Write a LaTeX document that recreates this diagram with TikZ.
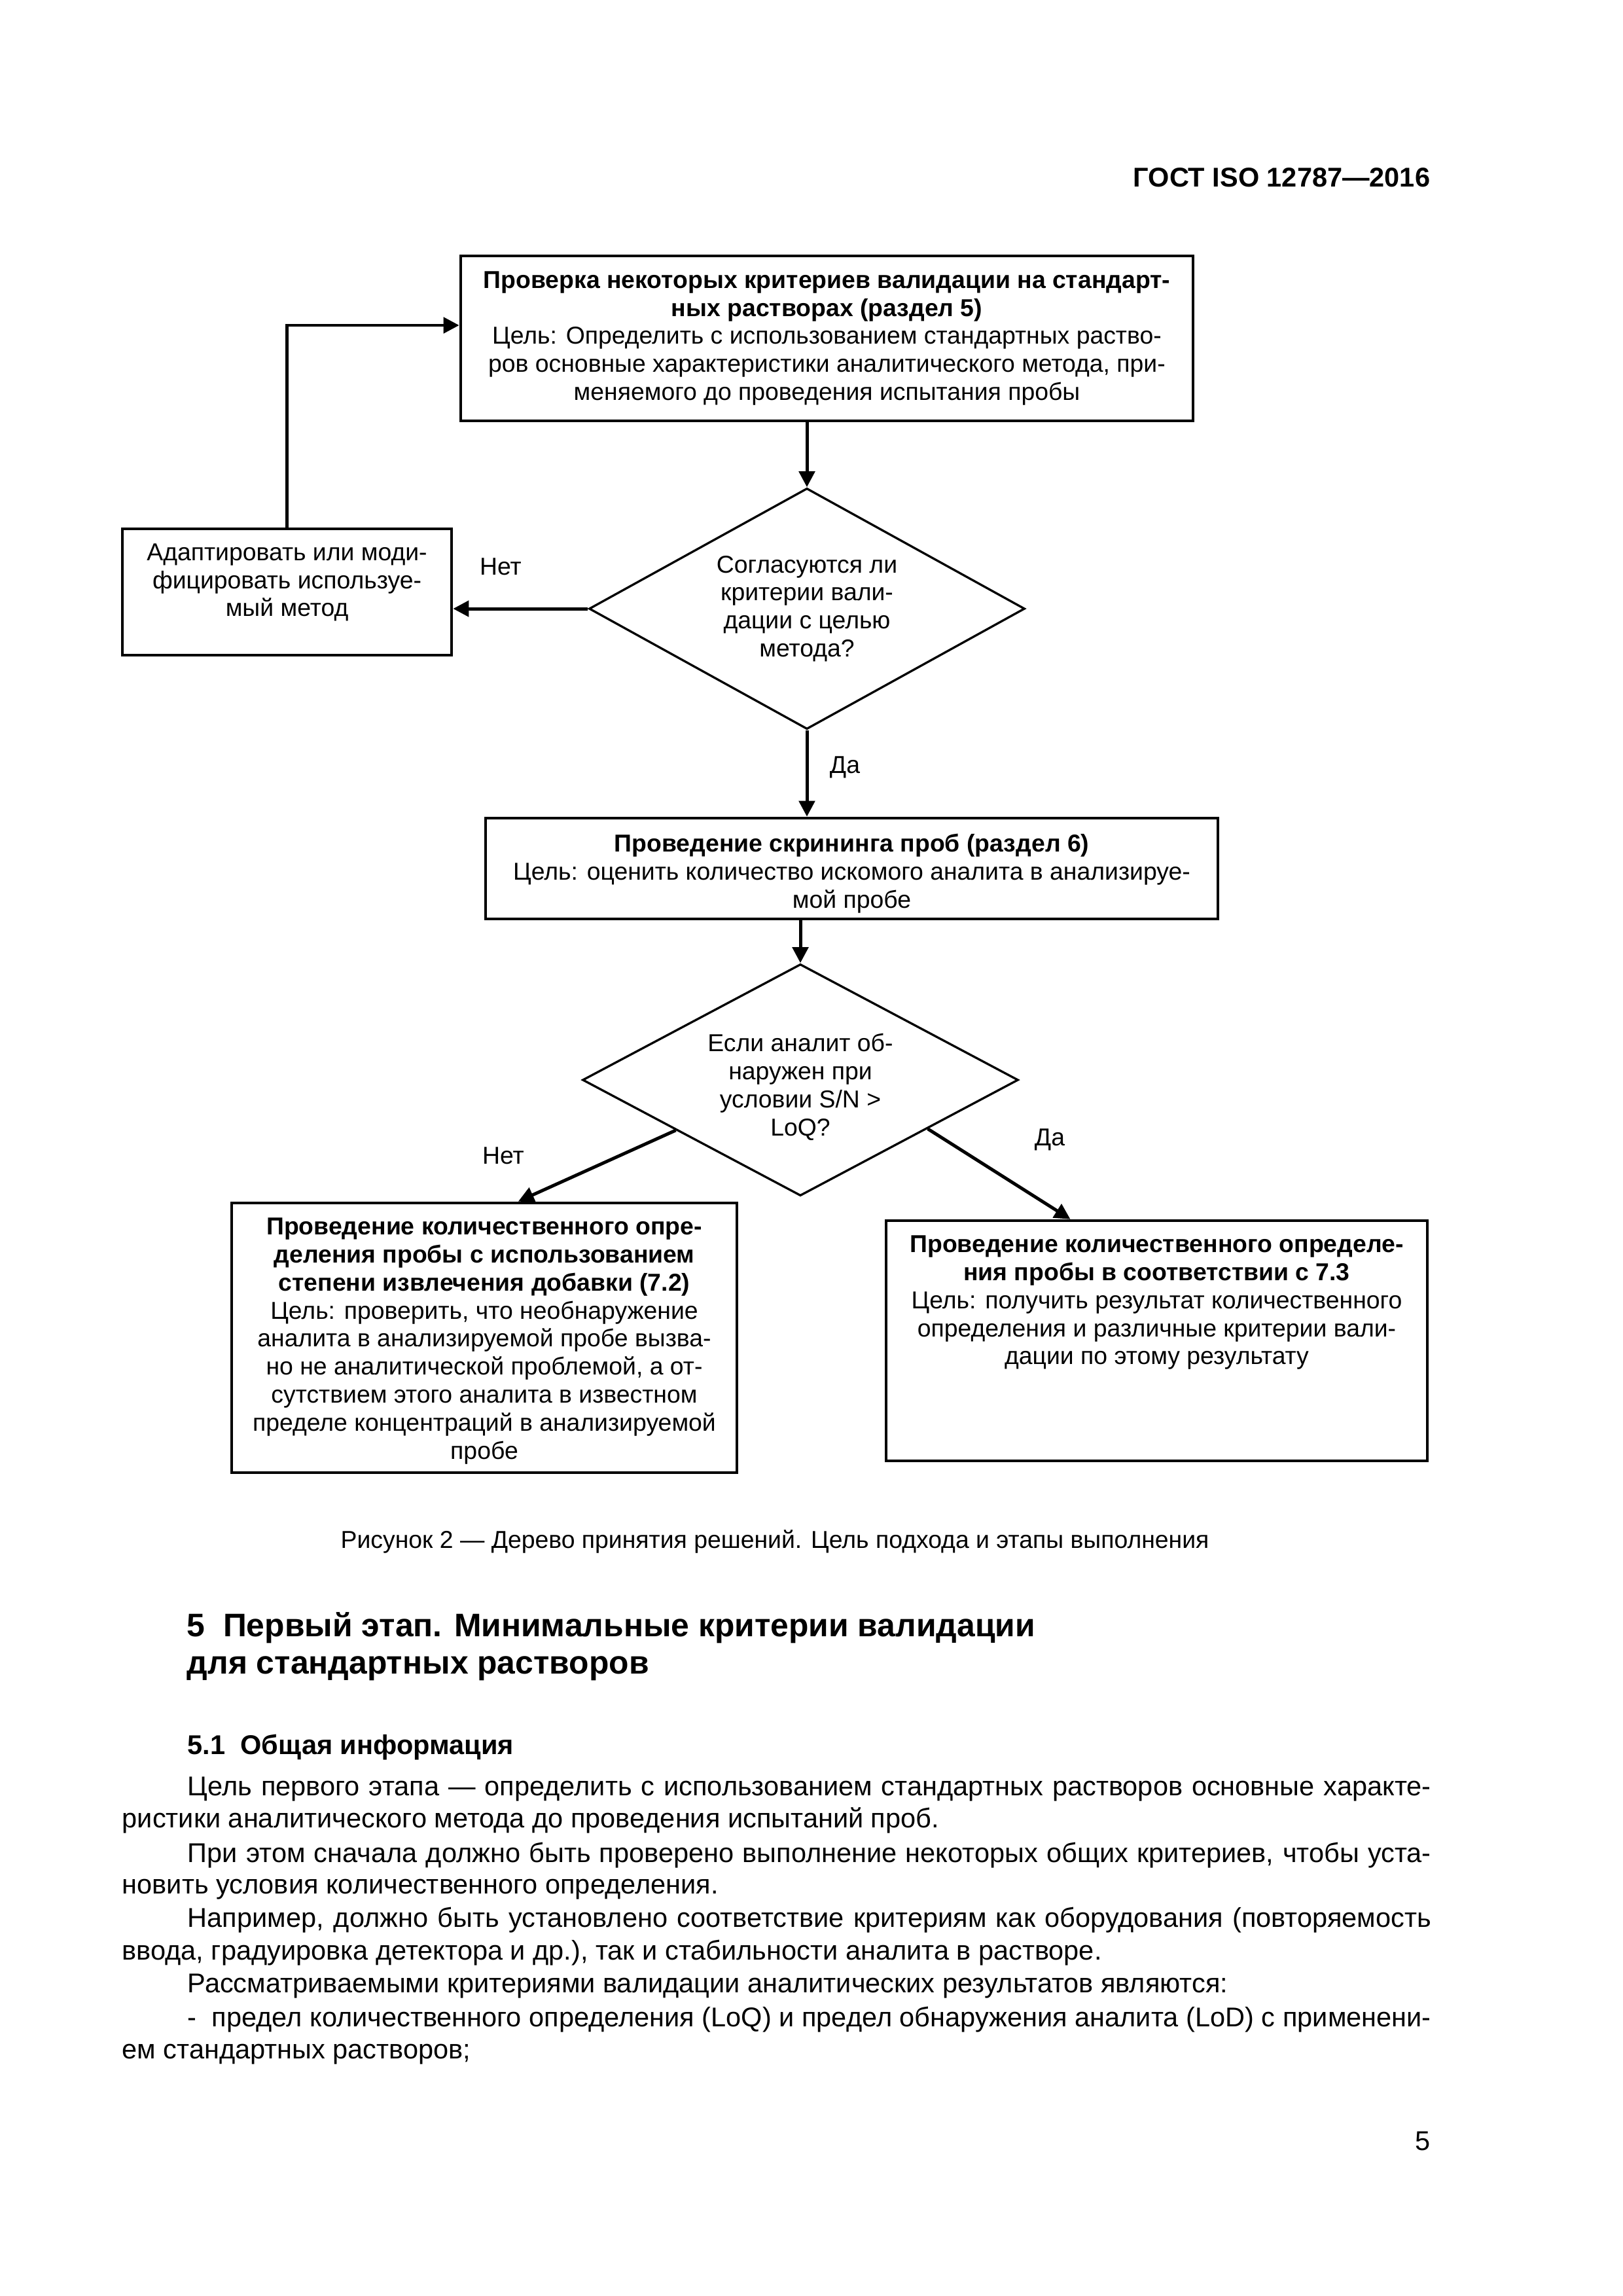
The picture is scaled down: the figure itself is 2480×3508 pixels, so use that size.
\documentclass[tikz,border=0pt]{standalone}
\usepackage{fontspec}
\setmainfont{Liberation Sans}
\usetikzlibrary{arrows.meta,shapes.geometric}

\tikzset{
  blok/.style={draw, line width=1.1pt, inner sep=0pt},
  romb/.style={draw, diamond, aspect=1.8, line width=0.8pt, inner sep=0pt},
  tekst/.style={align=center, inner sep=0pt, font=\fontsize{9}{10.3}\selectfont},
  strelka/.style={line width=1.2pt, -{Triangle[length=5.8pt,width=5.8pt]}},
  metka/.style={inner sep=0pt, font=\fontsize{9}{10.3}\selectfont},
  stroka/.style={anchor=base west, inner sep=0pt, font=\fontsize{10}{12}\selectfont},
}
\newcommand{\abzac}[1]{\makebox[457.7pt][s]{#1}}

\begin{document}
\begin{tikzpicture}[x=0.2409pt,y=0.2409pt,yscale=-1,xscale=1]
\useasboundingbox (0,0) rectangle (2480,3508);

% Header
\node[anchor=base east, inner sep=0pt, font=\bfseries\fontsize{10}{12}\selectfont] (gost) at (2186,285) {ГОСТ ISO 12787—2016};

%Shape: boxes and diamonds
\node[blok, minimum width=269.6pt, minimum height=60.7pt] (proverka) at (1263.5,517) {};
\node[blok, minimum width=121.2pt, minimum height=46.5pt] (adapt) at (438.5,904.5) {};
\node[romb, minimum width=160.4pt, minimum height=88.7pt] (romb1) at (1233,930) {};
\node[blok, minimum width=269.6pt, minimum height=37.1pt] (skrining) at (1301.5,1327) {};
\node[romb, minimum width=160.4pt, minimum height=85.3pt] (romb2) at (1223,1650) {};
\node[blok, minimum width=186pt, minimum height=99.3pt] (kolich1) at (740,2044) {};
\node[blok, minimum width=199.2pt, minimum height=88.4pt] (kolich2) at (1767.5,2048.5) {};

% Text Node
\node[tekst] (proverka-t) at (proverka) {\textbf{Проверка некоторых критериев валидации на стандарт-}\\
  \textbf{ных растворах (раздел 5)}\\
  Цель: Определить с использованием стандартных раство-\\
  ров основные характеристики аналитического метода, при-\\
  меняемого до проведения испытания пробы};
\node[tekst, yshift=3.5pt] (adapt-t) at (adapt) {Адаптировать или моди-\\фицировать используе-\\мый метод};
\node[tekst] (romb1-t) at (romb1) {Согласуются ли\\критерии вали-\\дации с целью\\метода?};
\node[tekst, yshift=-1.9pt] (skrining-t) at (skrining) {\textbf{Проведение скрининга проб (раздел 6)}\\
  Цель: оценить количество искомого аналита в анализируе-\\
  мой пробе};
\node[tekst, yshift=-2.6pt] (romb2-t) at (romb2) {Если аналит об-\\наружен при\\условии S/N >\\LoQ?};
\node[tekst, yshift=-1.2pt] (kolich1-t) at (kolich1) {\textbf{Проведение количественного опре-}\\
  \textbf{деления пробы с использованием}\\
  \textbf{степени извлечения добавки (7.2)}\\
  Цель: проверить, что необнаружение\\
  аналита в анализируемой пробе вызва-\\
  но не аналитической проблемой, а от-\\
  сутствием этого аналита в известном\\
  пределе концентраций в анализируемой\\
  пробе};
\node[tekst, yshift=14pt] (kolich2-t) at (kolich2) {\textbf{Проведение количественного определе-}\\
  \textbf{ния пробы в соответствии с 7.3}\\
  Цель: получить результат количественного\\
  определения и различные критерии вали-\\
  дации по этому результату};

%Straight Lines: connectors
\coordinate (vhod) at (proverka.west |- 0,497);
\draw[strelka] (proverka.south -| romb1.north) -- (romb1.north);
\draw[strelka] (romb1.west) -- (adapt.east |- romb1.west);
\draw[strelka] (adapt.north) |- (vhod);
\draw[strelka] (romb1.south) -- (romb1.south |- skrining.north);
\draw[strelka] (skrining.south -| romb2.north) -- (romb2.north);
\draw[strelka] (romb2.202) -- ([xshift=12.5pt]kolich1.north);
\draw[strelka] (romb2.339) -- ([xshift=-31.8pt]kolich2.north);

% Text Node: branch labels
\node[metka] (net1) at (765,866) {Нет};
\node[metka] (da1) at (1291,1172) {Да};
\node[metka] (net2) at (769,1766) {Нет};
\node[metka] (da2) at (1604,1741) {Да};

% Caption
\node[anchor=base, inner sep=0pt, font=\fontsize{9}{10.3}\selectfont] (risunok) at (1184,2365) {Рисунок 2 — Дерево принятия решений. Цель подхода и этапы выполнения};

% Section text
\node[stroka, font=\bfseries\fontsize{12}{14}\selectfont] (razdel1) at (285,2500) {5\ \ Первый этап. Минимальные критерии валидации};
\node[stroka, font=\bfseries\fontsize{12}{14}\selectfont] (razdel2) at (285,2557) {для стандартных растворов};
\node[stroka, font=\bfseries\fontsize{10}{12}\selectfont] (punkt) at (286,2680) {5.1\ \ Общая информация};
\node[stroka] (s1) at (286,2743) {\abzac{Цель первого этапа — определить с использованием стандартных растворов основные характе-}};
\node[stroka] (s2) at (186,2792) {ристики аналитического метода до проведения испытаний проб.};
\node[stroka] (s3) at (286,2845) {\abzac{При этом сначала должно быть проверено выполнение некоторых общих критериев, чтобы уста-}};
\node[stroka] (s4) at (186,2893) {новить условия количественного определения.};
\node[stroka] (s5) at (286,2944) {\abzac{Например, должно быть установлено соответствие критериям как оборудования (повторяемость}};
\node[stroka] (s6) at (186,2994) {ввода, градуировка детектора и др.), так и стабильности аналита в растворе.};
\node[stroka] (s7) at (286,3044) {Рассматриваемыми критериями валидации аналитических результатов являются:};
\node[stroka] (s8) at (286,3096) {\abzac{-\ \ предел количественного определения (LoQ) и предел обнаружения аналита (LoD) с применени-}};
\node[stroka] (s9) at (186,3145) {ем стандартных растворов;};

% Page number
\node[anchor=base east, inner sep=0pt, font=\fontsize{10}{12}\selectfont] (stranica) at (2186,3285) {5};
\end{tikzpicture}
\end{document}
